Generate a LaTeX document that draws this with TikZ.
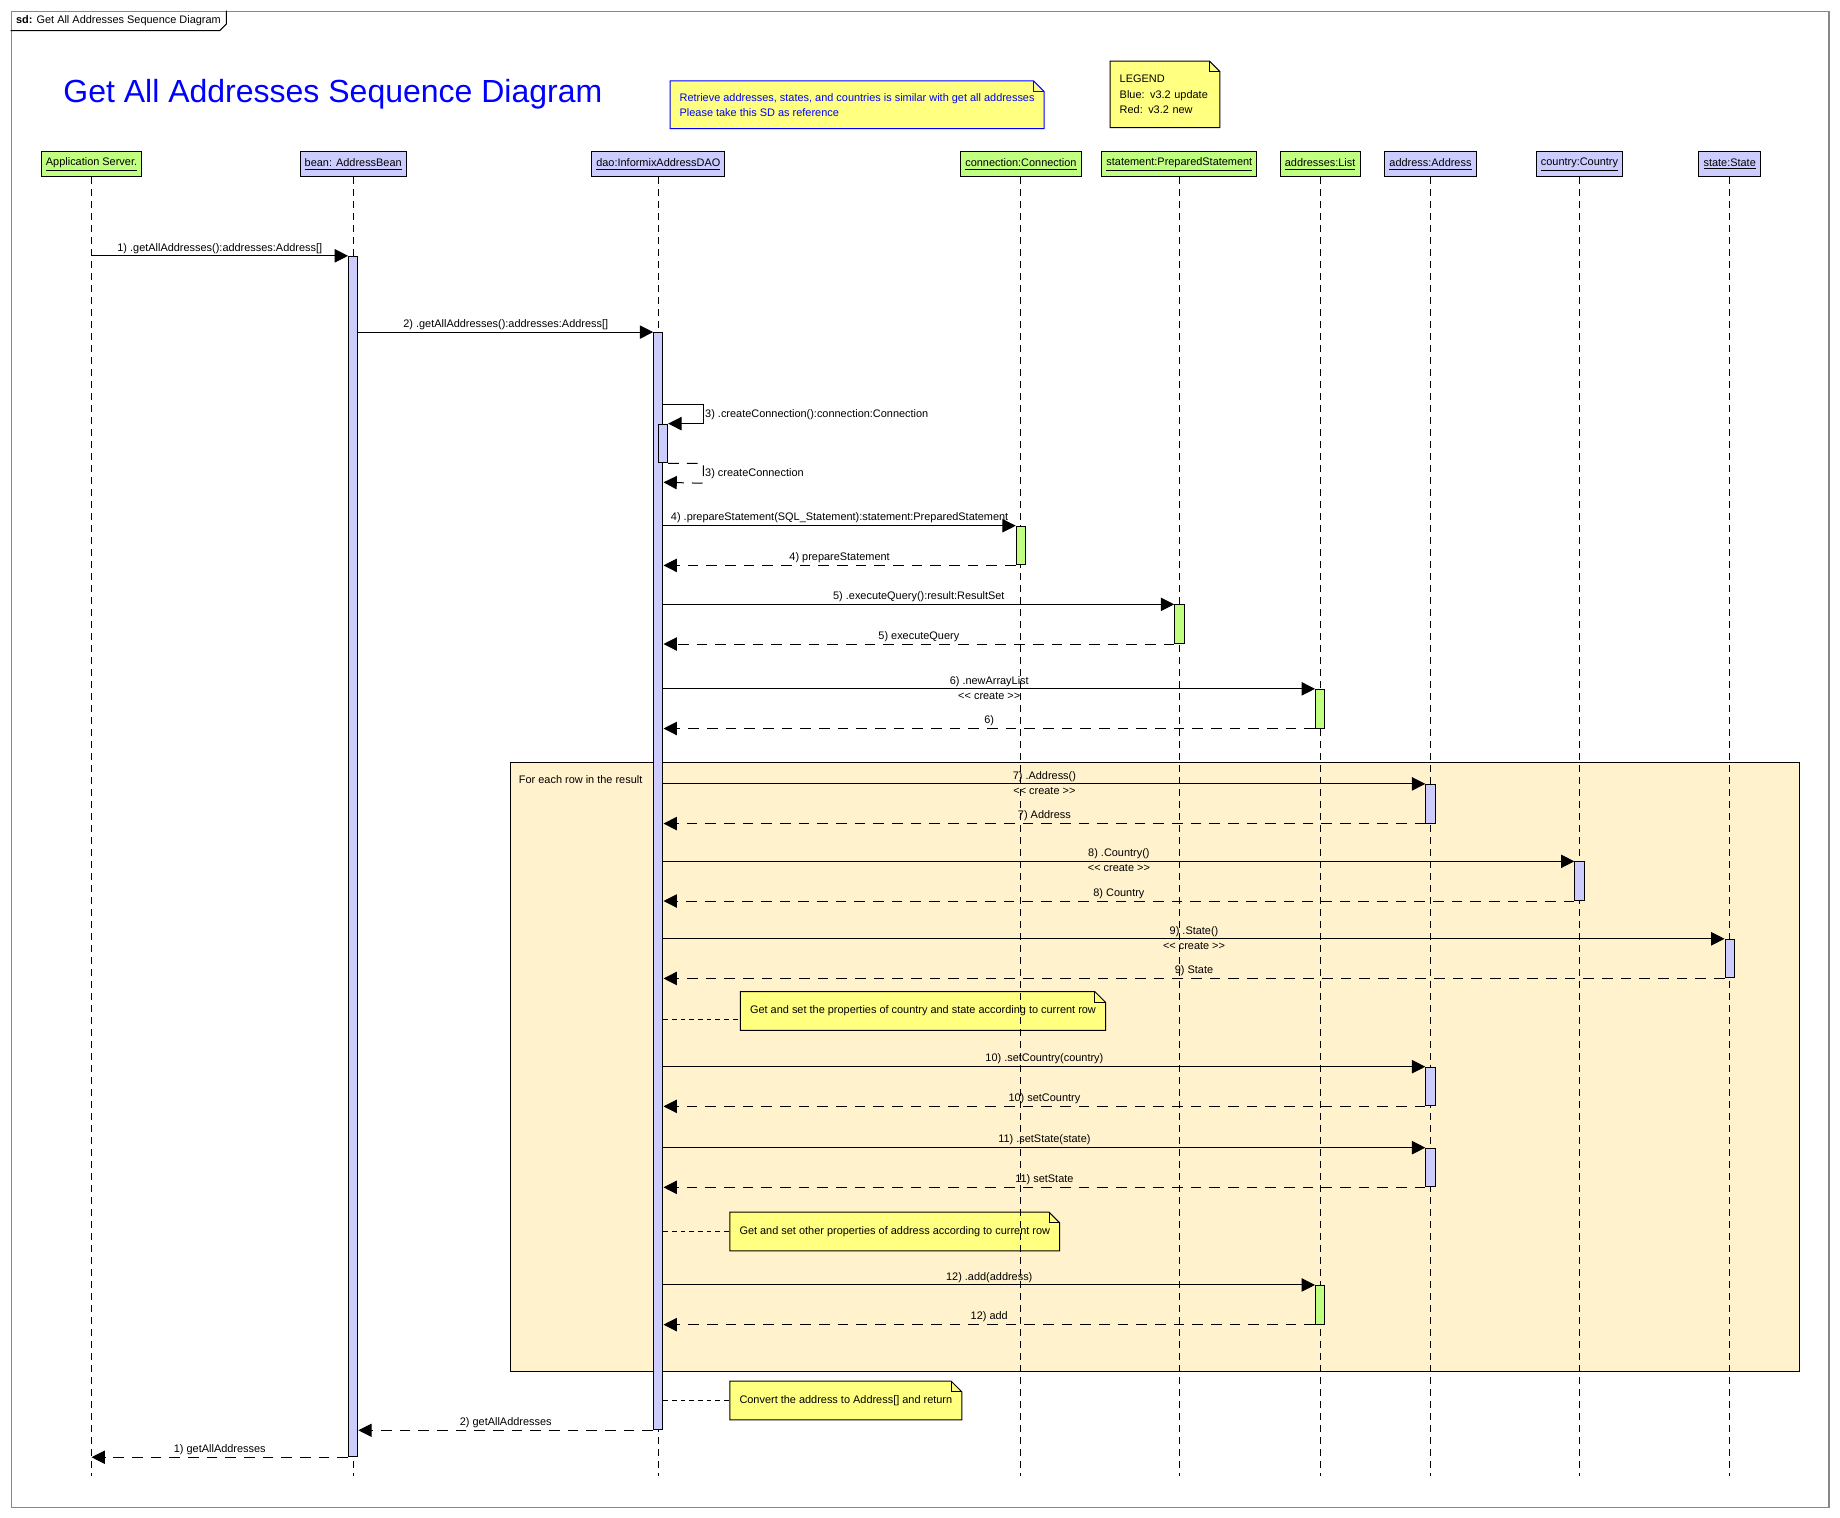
\documentclass[tikz,border=0pt]{standalone}
\usepackage{fontspec}
\setmainfont{Liberation Sans}
\usetikzlibrary{arrows.meta}
\definecolor{headgreen}{RGB}{192,255,128}
\definecolor{headblue}{RGB}{204,204,255}
\definecolor{noteyellow}{RGB}{255,255,128}
\definecolor{loopfill}{RGB}{255,242,204}
\definecolor{framegray}{RGB}{136,136,136}
\tikzstyle{head}=[draw, line width=0.75pt, minimum height=18.5pt, inner xsep=3.5pt]
\tikzstyle{green head}=[head, fill=headgreen]
\tikzstyle{blue head}=[head, fill=headblue]
\tikzstyle{lifeline}=[line width=0.75pt, dash pattern=on 5pt off 4pt]
\tikzstyle{activation}=[draw, line width=0.75pt, minimum width=7pt, minimum height=29pt, inner sep=0pt, anchor=north]
\tikzstyle{call}=[line width=0.75pt, -{Triangle[length=10pt, width=10pt]}]
\tikzstyle{reply}=[call, dash pattern=on 8pt off 6pt]
\tikzstyle{msg}=[above, inner sep=1.5pt]
\tikzstyle{stereo}=[below, inner sep=2pt]
\tikzstyle{note}=[fill=noteyellow, inner xsep=7pt, inner ysep=10.5pt, align=left, anchor=north west]
\tikzstyle{notelink}=[line width=0.75pt, dash pattern=on 3.5pt off 3pt]
% outline of a note with its folded corner
\newcommand{\notefold}[3][black]{%
  \path (#2.north east) coordinate (#2 corner);
  \fill[#3] ([xshift=-8pt]#2 corner) -- (#2 corner) -- ([yshift=-8pt]#2 corner) -- cycle;
  \draw[line width=0.75pt, #1] (#2.south west) -- (#2.north west) -- ([xshift=-8pt]#2 corner)
    -- ([yshift=-8pt]#2 corner) -- (#2.south east) -- cycle;
  \draw[line width=0.75pt, #1] ([xshift=-8pt]#2 corner) -- ([xshift=-8pt, yshift=-8pt]#2 corner) -- ([yshift=-8pt]#2 corner);
}

\begin{document}
\begin{tikzpicture}[x=0.88pt, y=-0.88pt, font=\fontsize{8.2}{11.4}\selectfont]
  \useasboundingbox (0,0) rectangle (1568,1293);
  % frame and title
  \node[draw=framegray, line width=1.1pt, anchor=north west, minimum width=1363pt, minimum height=1122pt] (frame) at (9,9) {};
  \node[anchor=north west, inner xsep=4pt, inner ysep=3.5pt] (sdtab) at (9,9) {\textbf{sd:} Get All Addresses Sequence Diagram};
  \draw[line width=0.75pt] (frame.west |- sdtab.south) -- ([xshift=-5pt]sdtab.south east) -- ([yshift=5pt]sdtab.south east) -- (sdtab.east |- frame.north);
  \node[anchor=west, text=blue, font=\fontsize{24}{28}\selectfont] (title) at (50,80) {Get All Addresses Sequence Diagram};
  \node[note, text=blue, inner ysep=9pt] (refnote) at (571,69) {Retrieve addresses, states, and countries is similar with get all addresses\\Please take this SD as reference};
  \notefold[blue]{refnote}{white}
  \node[note, text width=68pt] (legend) at (946,52) {LEGEND\\Blue: v3.2 update\\Red: v3.2 new};
  \notefold{legend}{white}

  % lifeline heads
  \node[green head] (app) at (78,140) {\underline{Application Server.}};
  \node[blue head] (bean) at (301,140) {\underline{bean: AddressBean}};
  \node[blue head] (dao) at (561,140) {\underline{dao:InformixAddressDAO}};
  \node[green head] (conn) at (870,140) {\underline{connection:Connection}};
  \node[green head] (stmt) at (1005,140) {\underline{statement:PreparedStatement}};
  \node[green head] (list) at (1125,140) {\underline{addresses:List}};
  \node[blue head] (addr) at (1219,140) {\underline{address:Address}};
  \node[blue head] (ctry) at (1346,140) {\underline{country:Country}};
  \node[blue head] (state) at (1474,140) {\underline{state:State}};

  % loop fragment and notes inside it
  \node[draw, line width=0.75pt, fill=loopfill, anchor=north west, minimum width=966pt, minimum height=456.7pt] (loop) at (435,649) {};
  \node[anchor=west, inner sep=0pt] (looplabel) at (442,664) {For each row in the result};
  \node[note] (rownote) at (631,845) {Get and set the properties of country and state according to current row};
  \notefold{rownote}{loopfill}
  \node[note] (addrnote) at (622,1033) {Get and set other properties of address according to current row};
  \notefold{addrnote}{loopfill}
  \node[note] (convnote) at (622,1177) {Convert the address to Address[] and return};
  \notefold{convnote}{white}

  \coordinate (bottom) at (0,1258);
  \foreach \h in {app,bean,dao,conn,stmt,list,addr,ctry,state}
    \draw[lifeline] (\h.south) -- (\h.south |- bottom);

  % activations
  \node[activation, fill=headblue, minimum height=900.2pt] (beanbar) at (bean |- 0,218) {};
  \node[activation, fill=headblue, minimum height=822.8pt] (daobar) at (dao |- 0,283) {};
  \node[activation, fill=headblue] (selfbar) at (565,361) {};
  \node[activation, fill=headgreen] (connbar) at (conn |- 0,448) {};
  \node[activation, fill=headgreen] (stmtbar) at (stmt |- 0,515) {};
  \node[activation, fill=headgreen] (listbarA) at (list |- 0,587) {};
  \node[activation, fill=headblue] (addrbarA) at (addr |- 0,668) {};
  \node[activation, fill=headblue] (ctrybar) at (ctry |- 0,734) {};
  \node[activation, fill=headblue] (statebar) at (state |- 0,800) {};
  \node[activation, fill=headblue] (addrbarB) at (addr |- 0,909) {};
  \node[activation, fill=headblue] (addrbarC) at (addr |- 0,978) {};
  \node[activation, fill=headgreen] (listbarB) at (list |- 0,1095) {};

  % messages
  \draw[call] (app |- beanbar.north) -- node[msg] {1) .getAllAddresses():addresses:Address[]} (beanbar.north west);
  \draw[call] (beanbar.east |- daobar.north) -- node[msg] {2) .getAllAddresses():addresses:Address[]} (daobar.north west);
  \draw[call] (daobar.east |- 0,345) -- ++(34,0) -- node[right, inner sep=1pt] {3) .createConnection():connection:Connection} ++(0,16) -- (selfbar.north east);
  \draw[reply] (selfbar.south east) -- ++(30,0) -- node[right, inner sep=1pt] {3) createConnection} ++(0,17) -- (daobar.east |- 0,411);
  \draw[call] (daobar.east |- connbar.north) -- node[msg] {4) .prepareStatement(SQL\_Statement):statement:PreparedStatement} (connbar.north west);
  \draw[reply] (connbar.south west) -- node[msg] {4) prepareStatement} (daobar.east |- connbar.south);
  \draw[call] (daobar.east |- stmtbar.north) -- node[msg] {5) .executeQuery():result:ResultSet} (stmtbar.north west);
  \draw[reply] (stmtbar.south west) -- node[msg] {5) executeQuery} (daobar.east |- stmtbar.south);
  \draw[call] (daobar.east |- listbarA.north) -- node[msg] {6) .newArrayList} node[stereo] {<{}< create >{}>} (listbarA.north west);
  \draw[reply] (listbarA.south west) -- node[msg] {6)} (daobar.east |- listbarA.south);
  \draw[call] (daobar.east |- addrbarA.north) -- node[msg] {7) .Address()} node[stereo] {<{}< create >{}>} (addrbarA.north west);
  \draw[reply] (addrbarA.south west) -- node[msg] {7) Address} (daobar.east |- addrbarA.south);
  \draw[call] (daobar.east |- ctrybar.north) -- node[msg] {8) .Country()} node[stereo] {<{}< create >{}>} (ctrybar.north west);
  \draw[reply] (ctrybar.south west) -- node[msg] {8) Country} (daobar.east |- ctrybar.south);
  \draw[call] (daobar.east |- statebar.north) -- node[msg] {9) .State()} node[stereo] {<{}< create >{}>} (statebar.north west);
  \draw[reply] (statebar.south west) -- node[msg] {9) State} (daobar.east |- statebar.south);
  \draw[notelink] (daobar.east |- rownote.south west) ++(0,-9) coordinate (rowlink) -- (rowlink -| rownote.west);
  \draw[call] (daobar.east |- addrbarB.north) -- node[msg] {10) .setCountry(country)} (addrbarB.north west);
  \draw[reply] (addrbarB.south west) -- node[msg] {10) setCountry} (daobar.east |- addrbarB.south);
  \draw[call] (daobar.east |- addrbarC.north) -- node[msg] {11) .setState(state)} (addrbarC.north west);
  \draw[reply] (addrbarC.south west) -- node[msg] {11) setState} (daobar.east |- addrbarC.south);
  \draw[notelink] (daobar.east |- addrnote.west) -- (addrnote.west);
  \draw[call] (daobar.east |- listbarB.north) -- node[msg] {12) .add(address)} (listbarB.north west);
  \draw[reply] (listbarB.south west) -- node[msg] {12) add} (daobar.east |- listbarB.south);
  \draw[notelink] (daobar.east |- convnote.west) -- (convnote.west);
  \draw[reply] (daobar.south west) -- node[msg] {2) getAllAddresses} (beanbar.east |- daobar.south);
  \draw[reply] (beanbar.south west) -- node[msg] {1) getAllAddresses} (app |- beanbar.south);
\end{tikzpicture}
\end{document}
